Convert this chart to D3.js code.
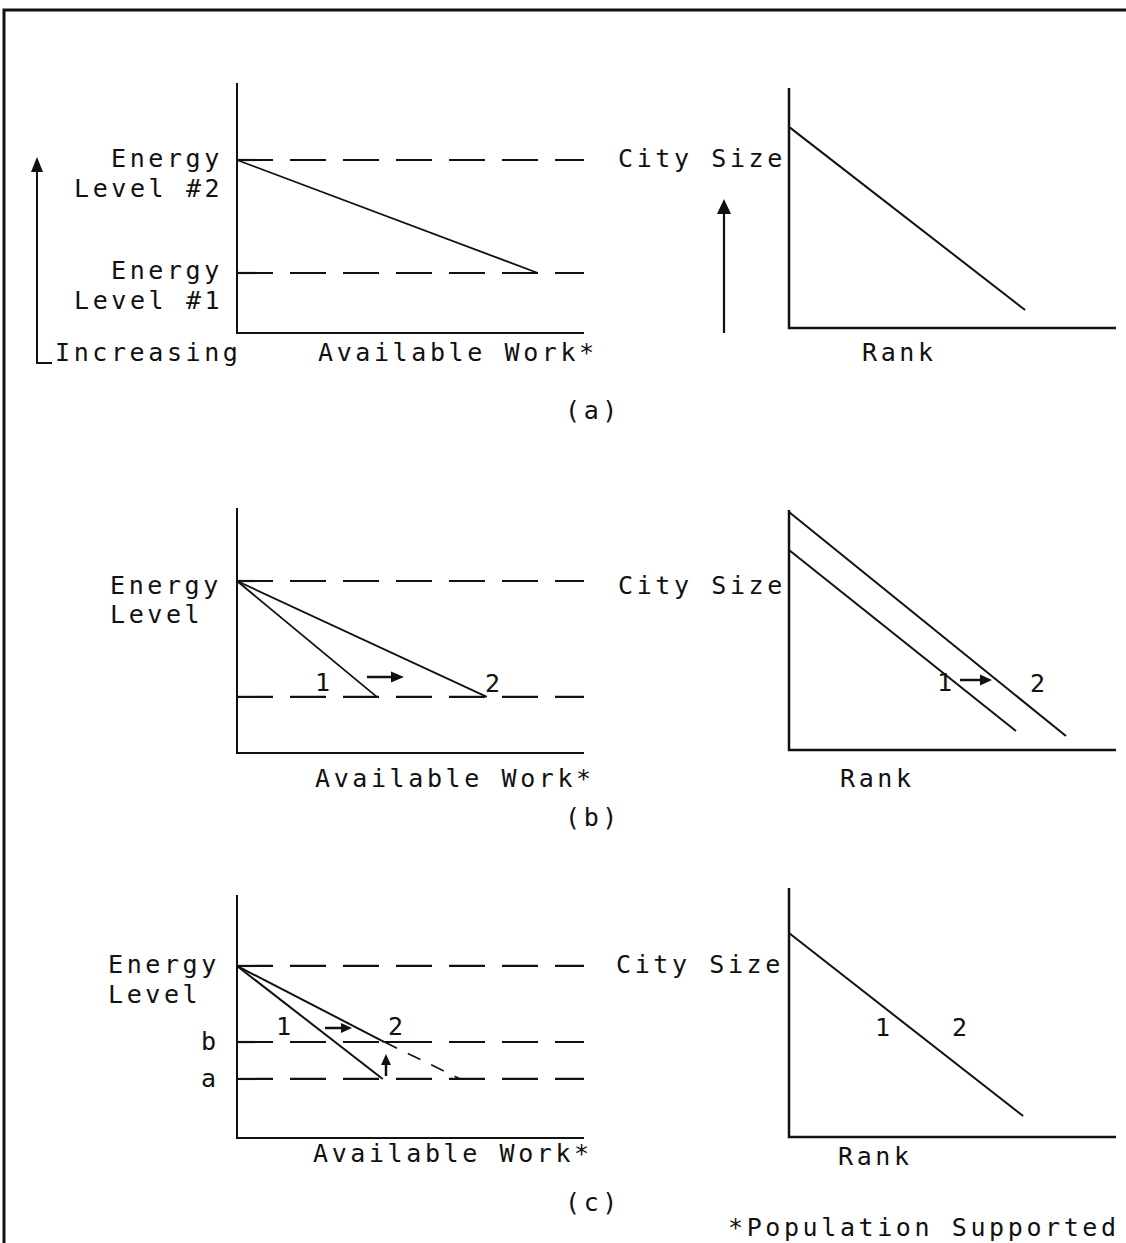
<!DOCTYPE html>
<html>
<head>
<meta charset="utf-8">
<script src="https://cdn.jsdelivr.net/npm/d3@7"></script>
<style>
  html, body { margin: 0; padding: 0; background: #fff; }
  svg text { font-family: "DejaVu Sans Mono", "Liberation Mono", monospace; font-size: 25px; letter-spacing: 3.6px; fill: #111; }
</style>
</head>
<body>
<div id="chart"></div>
<script>
// ---------- DATA (values in 0–100 units on each panel's own axes) ----------
const panelNames = ["(a)", "(b)", "(c)"];

// Left (Energy / Available Work) panels: dashed energy levels
const leftDashLevelsA = [69.2, 24.0];
const leftDashLevelsB = [70.2, 22.9];
const leftDashLevelsC = [70.8, 39.5, 24.3];

// Left panels: solid decline lines [[x0,y0],[x1,y1]]
const leftLinesA = [[[0, 69.2], [86.7, 24.0]]];
const leftLinesB = [[[0, 70.2], [40.3, 22.9]], [[0, 70.2], [72.0, 22.9]]];
const leftLinesC = [[[0, 70.8], [42.0, 24.3]], [[0, 70.8], [42.5, 39.5]], [[42.5, 39.5], [54.5, 39.5]]];
const leftDashedLinesC = [[[42.5, 39.5], [64.3, 24.3]]];

// Right (City Size / Rank) panels: rank-size lines
const rightLinesA = [[[0, 83.8], [72.2, 7.5]]];
const rightLinesB = [[[0, 83.3], [69.4, 7.9]], [[0, 99.2], [84.7, 5.8]]];
const rightLinesC = [[[0, 81.9], [71.6, 8.4]]];

// Text labels
const energyLabelsA = [["Energy", "Level #2"], ["Energy", "Level #1"]];
const energyLabelB = ["Energy", "Level"];
const energyLabelC = ["Energy", "Level"];
const levelLetters = ["b", "a"];
const curveNumbers = ["1", "2"];
const xTitleLeft = "Available Work*";
const xTitleRight = "Rank";
const yTitleRight = "City Size";
const increasingLabel = "Increasing";
const footnote = "*Population Supported";

// ---------- LAYOUT ----------
const W = 1126, H = 1243;
const svg = d3.select("#chart").append("svg").attr("width", W).attr("height", H);

// frame (top and left border)
svg.append("path").attr("d", `M4,${H} V10 H${W}`).attr("fill", "none").attr("stroke", "#111").attr("stroke-width", 3);

const leftBoxes = [
  { x0: 237, x1: 584, top: 83, bottom: 333 },
  { x0: 237, x1: 584, top: 508, bottom: 753 },
  { x0: 237, x1: 584, top: 895, bottom: 1138 }
];
const rightBoxes = [
  { x0: 789, x1: 1116, top: 88, bottom: 328 },
  { x0: 789, x1: 1116, top: 510, bottom: 750 },
  { x0: 789, x1: 1116, top: 888, bottom: 1137 }
];

const line = d3.line();
const ink = "#111";
const levelDash = "36,17";

function makeScales(b) {
  return {
    x: d3.scaleLinear().domain([0, 100]).range([b.x0, b.x1]),
    y: d3.scaleLinear().domain([0, 100]).range([b.bottom, b.top])
  };
}

function drawAxes(g, b, w) {
  g.append("path")
    .attr("d", `M${b.x0},${b.top} V${b.bottom} H${b.x1}`)
    .attr("fill", "none").attr("stroke", ink).attr("stroke-width", w);
}

function drawLines(g, s, data, width, dash) {
  g.selectAll(null).data(data).enter().append("path")
    .attr("d", d => line(d.map(p => [s.x(p[0]), s.y(p[1])])))
    .attr("fill", "none").attr("stroke", ink).attr("stroke-width", width)
    .attr("stroke-dasharray", dash || null);
}

function drawDashLevels(g, s, levels, dash) {
  g.selectAll(null).data(levels).enter().append("line")
    .attr("x1", s.x(0)).attr("x2", s.x(100))
    .attr("y1", d => s.y(d)).attr("y2", d => s.y(d))
    .attr("stroke", ink).attr("stroke-width", 2.2)
    .attr("stroke-dasharray", dash);
}

function arrow(g, x1, y1, x2, y2, headLen, headW, sw) {
  const dx = x2 - x1, dy = y2 - y1, L = Math.hypot(dx, dy);
  const ux = dx / L, uy = dy / L;
  const bx = x2 - ux * headLen, by = y2 - uy * headLen;
  g.append("line").attr("x1", x1).attr("y1", y1).attr("x2", bx).attr("y2", by)
    .attr("stroke", ink).attr("stroke-width", sw);
  g.append("path")
    .attr("d", `M${x2},${y2} L${bx - uy * headW},${by + ux * headW} L${bx + uy * headW},${by - ux * headW} Z`)
    .attr("fill", ink);
}

function text(g, x, y, t) {
  g.append("text").attr("x", x).attr("y", y).text(t);
}

// ---------- Panel (a) ----------
{
  const g = svg.append("g");
  const b = leftBoxes[0], s = makeScales(b);
  drawAxes(g, b, 2);
  drawDashLevels(g, s, leftDashLevelsA, levelDash);
  drawLines(g, s, leftLinesA, 1.8);
  text(g, 111, 167, energyLabelsA[0][0]);
  text(g, 74, 197, energyLabelsA[0][1]);
  text(g, 111, 279, energyLabelsA[1][0]);
  text(g, 74, 309, energyLabelsA[1][1]);
  text(g, 318, 361, xTitleLeft);
  // increasing arrow
  g.append("path").attr("d", "M52,363 H37 V170").attr("fill", "none").attr("stroke", ink).attr("stroke-width", 2);
  arrow(g, 37, 180, 37, 157, 15, 6, 2);
  text(g, 55, 361, increasingLabel);

  const rb = rightBoxes[0], rs = makeScales(rb);
  drawAxes(g, rb, 2.5);
  drawLines(g, rs, rightLinesA, 2);
  text(g, 618, 167, yTitleRight);
  text(g, 862, 361, xTitleRight);
  arrow(g, 724, 333, 724, 199, 15, 7, 2.2);
  text(g, 565, 419, panelNames[0]);
}

// ---------- Panel (b) ----------
{
  const g = svg.append("g");
  const b = leftBoxes[1], s = makeScales(b);
  drawAxes(g, b, 2);
  drawDashLevels(g, s, leftDashLevelsB, levelDash);
  drawLines(g, s, leftLinesB, 1.8);
  text(g, 110, 594, energyLabelB[0]);
  text(g, 110, 623, energyLabelB[1]);
  text(g, 315, 787, xTitleLeft);
  text(g, 315, 691, curveNumbers[0]);
  text(g, 485, 692, curveNumbers[1]);
  arrow(g, 367, 677, 404, 677, 13, 5.5, 2.5);

  const rb = rightBoxes[1], rs = makeScales(rb);
  drawAxes(g, rb, 2.5);
  drawLines(g, rs, rightLinesB, 2);
  text(g, 618, 594, yTitleRight);
  text(g, 840, 787, xTitleRight);
  text(g, 937, 691, curveNumbers[0]);
  text(g, 1030, 692, curveNumbers[1]);
  arrow(g, 960, 680, 992, 680, 12, 5.5, 2.5);
  text(g, 565, 826, panelNames[1]);
}

// ---------- Panel (c) ----------
{
  const g = svg.append("g");
  const b = leftBoxes[2], s = makeScales(b);
  drawAxes(g, b, 2);
  drawDashLevels(g, s, leftDashLevelsC, levelDash);
  drawLines(g, s, leftLinesC, 2);
  drawLines(g, s, leftDashedLinesC, 1.6, "14,12");
  text(g, 108, 973, energyLabelC[0]);
  text(g, 108, 1003, energyLabelC[1]);
  text(g, 201, 1050, levelLetters[0]);
  text(g, 201, 1087, levelLetters[1]);
  text(g, 276, 1035, curveNumbers[0]);
  text(g, 388, 1035, curveNumbers[1]);
  arrow(g, 325, 1028, 352, 1028, 11, 5, 2.5);
  arrow(g, 386, 1076, 386, 1054, 11, 5, 2.5);
  text(g, 313, 1162, xTitleLeft);

  const rb = rightBoxes[2], rs = makeScales(rb);
  drawAxes(g, rb, 2.5);
  drawLines(g, rs, rightLinesC, 2);
  text(g, 616, 973, yTitleRight);
  text(g, 838, 1165, xTitleRight);
  text(g, 875, 1036, curveNumbers[0]);
  text(g, 952, 1036, curveNumbers[1]);
  text(g, 565, 1211, panelNames[2]);
  text(g, 728, 1236, footnote);
}
</script>
</body>
</html>
